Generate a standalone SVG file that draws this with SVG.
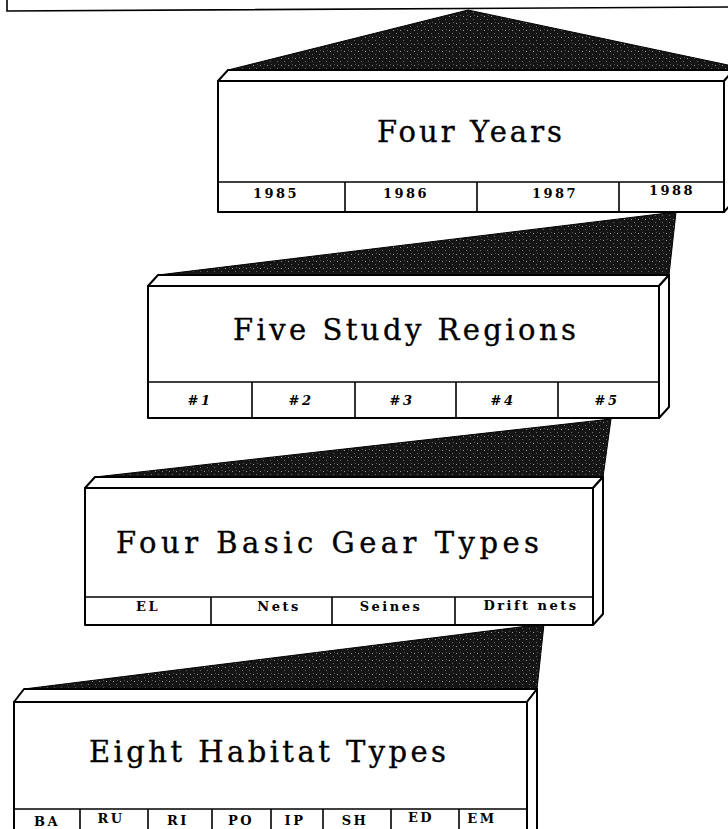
<svg xmlns="http://www.w3.org/2000/svg" width="728" height="829" viewBox="0 0 728 829">
<style>
.face{fill:#fff;stroke:#000;stroke-width:2;stroke-linejoin:round}
.ln{stroke:#000;stroke-width:1.6;fill:none}
.title{font-family:"DejaVu Serif","Liberation Serif",serif;font-size:29px;fill:#000;stroke:#000;stroke-width:0.35}
.cell{font-family:"DejaVu Serif","Liberation Serif",serif;font-size:13px;font-weight:bold;fill:#000;text-anchor:middle;letter-spacing:2.5px}
.fan{fill:url(#stip);stroke:#000;stroke-width:1}
</style>
<defs>
<pattern id="stip" width="7" height="7" patternUnits="userSpaceOnUse">
<rect width="7" height="7" fill="#151515"/>
<rect x="1" y="2" width="1" height="1" fill="#9a9a9a"/>
<rect x="4" y="5" width="1" height="1" fill="#6a6a6a"/>
<rect x="5" y="1" width="1" height="1" fill="#555"/>
</pattern>
</defs>
<rect width="728" height="829" fill="#fff"/>

<g id="top-box">
<path class="ln" d="M7,0 V11 L728,7" stroke-width="2"/>
</g>

<g id="connectors">
<polygon class="fan" points="228,70 468,10 728,65 728,70"/>
<polygon class="fan" points="158,275 676,212 669,275"/>
<polygon class="fan" points="95,477 611,419 603,477"/>
<polygon class="fan" points="24,689 544,624 537,689"/>
</g>

<g id="four-years">
<polygon class="face" points="218,81 228,70 734,70 724,81"/>
<polygon class="face" points="724,81 734,70 734,201 724,212"/>
<rect class="face" x="218" y="81" width="506" height="131"/>
<line class="ln" x1="218" y1="182" x2="724" y2="182"/>
<line class="ln" x1="345" y1="182" x2="345" y2="212"/>
<line class="ln" x1="477" y1="182" x2="477" y2="212"/>
<line class="ln" x1="619" y1="182" x2="619" y2="212"/>
<text class="title" x="377" y="142" textLength="185" lengthAdjust="spacing">Four Years</text>
<text class="cell" x="276" y="198">1985</text>
<text class="cell" x="406" y="198">1986</text>
<text class="cell" x="555" y="198">1987</text>
<text class="cell" x="672" y="195">1988</text>
</g>

<g id="five-study-regions">
<polygon class="face" points="148,286 158,275 669,275 659,286"/>
<polygon class="face" points="659,286 669,275 669,407 659,418"/>
<rect class="face" x="148" y="286" width="511" height="132"/>
<line class="ln" x1="148" y1="382" x2="659" y2="382"/>
<line class="ln" x1="252" y1="382" x2="252" y2="418"/>
<line class="ln" x1="355" y1="382" x2="355" y2="418"/>
<line class="ln" x1="456" y1="382" x2="456" y2="418"/>
<line class="ln" x1="558" y1="382" x2="558" y2="418"/>
<text class="title" x="233" y="340" textLength="343" lengthAdjust="spacing">Five Study Regions</text>
<text class="cell" x="200" y="405" font-style="italic">#1</text>
<text class="cell" x="301" y="405" font-style="italic">#2</text>
<text class="cell" x="402" y="405" font-style="italic">#3</text>
<text class="cell" x="503" y="405" font-style="italic">#4</text>
<text class="cell" x="607" y="405" font-style="italic">#5</text>
</g>

<g id="four-basic-gear-types">
<polygon class="face" points="85,488 95,477 603,477 593,488"/>
<polygon class="face" points="593,488 603,477 603,614 593,625"/>
<rect class="face" x="85" y="488" width="508" height="137"/>
<line class="ln" x1="85" y1="597" x2="593" y2="597"/>
<line class="ln" x1="211" y1="597" x2="211" y2="625"/>
<line class="ln" x1="332" y1="597" x2="332" y2="625"/>
<line class="ln" x1="455" y1="597" x2="455" y2="625"/>
<text class="title" x="116" y="553" textLength="423" lengthAdjust="spacing">Four Basic Gear Types</text>
<text class="cell" x="148" y="611">EL</text>
<text class="cell" x="279" y="611">Nets</text>
<text class="cell" x="391" y="611">Seines</text>
<text class="cell" x="531" y="610" letter-spacing="1.5">Drift nets</text>
</g>

<g id="eight-habitat-types">
<polygon class="face" points="14,702 24,689 537,689 527,702"/>
<polygon class="face" points="527,702 537,689 537,840 527,850"/>
<rect class="face" x="14" y="702" width="513" height="140"/>
<line class="ln" x1="14" y1="809" x2="527" y2="809"/>
<line class="ln" x1="80" y1="809" x2="80" y2="829"/>
<line class="ln" x1="148" y1="809" x2="148" y2="829"/>
<line class="ln" x1="212" y1="809" x2="212" y2="829"/>
<line class="ln" x1="271" y1="809" x2="271" y2="829"/>
<line class="ln" x1="323" y1="809" x2="323" y2="829"/>
<line class="ln" x1="391" y1="809" x2="391" y2="829"/>
<line class="ln" x1="459" y1="809" x2="459" y2="829"/>
<text class="title" x="89" y="762" textLength="357" lengthAdjust="spacing">Eight Habitat Types</text>
<text class="cell" x="47" y="826">BA</text>
<text class="cell" x="111" y="823">RU</text>
<text class="cell" x="178" y="825">RI</text>
<text class="cell" x="241" y="825">PO</text>
<text class="cell" x="295" y="825">IP</text>
<text class="cell" x="355" y="825">SH</text>
<text class="cell" x="421" y="822">ED</text>
<text class="cell" x="482" y="823">EM</text>
</g>
</svg>
